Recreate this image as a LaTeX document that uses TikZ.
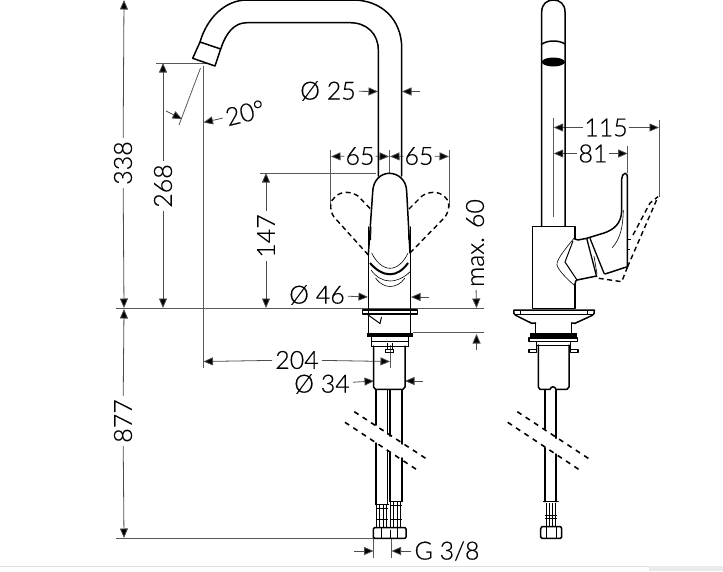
\documentclass[tikz,border=0pt]{standalone}
\usepackage{fontspec}
\setmainfont{Lato}[UprightFont=* Light,FakeBold=0.4]
\usetikzlibrary{arrows.meta}
\tikzset{
 x=1pt,y=-1pt,
 ol/.style={line width=1.5pt,black,line join=round,line cap=round},
 med/.style={line width=1pt,black},
 thin1/.style={line width=.6pt,black},
 ext/.style={line width=.8pt,black!65},
 dim/.style={line width=.8pt,black!70},
 dimar/.style={dim,-{Triangle[length=9.5pt,width=8pt,fill=black]}},
 txt/.style={inner sep=3pt,font=\fontsize{25}{25}\selectfont,text=black},
 dsh/.style={line width=1.4pt,dash pattern=on 5pt off 3.5pt,black},
 brk/.style={line width=1.6pt,dash pattern=on 5pt off 5pt,black},
}
\begin{document}
\begin{tikzpicture}
\useasboundingbox (0,0) rectangle (723,571);
\draw[line width=1pt,black!13] (0,566.5)--(723,566.5);
\fill[black!8] (649,566) rectangle (723,571);
% ---- extension lines
\draw[ext] (116,308.5)--(484,308.5);
\draw[ext] (116,538)--(376,538);
\draw[ext] (156,63)--(206,63);
\draw[ext] (203,66)--(203,368);
\draw[ext] (260,173)--(376,173);
\draw[ext] (413,332.5)--(484,332.5);
\draw[ext] (330.5,150)--(330.5,205);
\draw[ext] (449,150)--(449,207);
\draw[ext] (389.5,150)--(389.5,173);
\draw[ext] (390,345)--(390,368);
\draw[ext] (373.5,538)--(373.5,558);
\draw[ext] (391.5,538)--(391.5,558);
\draw[ext] (200.5,68)--(179,125);
\draw[ext] (553.3,118)--(553.3,217);
\draw[ext] (659,120)--(659,197);
\draw[ext] (627.7,146)--(627.7,173);
% ---- dimension texts
\node[txt,rotate=90] (t338) at (123,163) {338};
\node[txt,rotate=90] (t877) at (123,421) {877};
\node[txt,rotate=90] (t268) at (163,186) {268};
\node[txt,rotate=90] (t147) at (266,236) {147};
\node[txt,rotate=90] (tmax) at (475,243) {max. 60};
\node[txt,rotate=14] (t20) at (245,113) {20°};
\node[txt] (t25) at (328,91) {Ø 25};
\node[txt,inner xsep=1pt] (t65a) at (360,156) {65};
\node[txt,inner xsep=1pt] (t65b) at (419,156) {65};
\node[txt] (t46) at (317,295) {Ø 46};
\node[txt] (t204) at (297,360) {204};
\node[txt] (t34) at (322,384) {Ø 34};
\node[txt] (tg) at (447,551) {G 3/8};
\node[txt,inner xsep=1pt] (t115) at (606,127.5) {115};
\node[txt,inner xsep=1pt] (t81) at (593,153.5) {81};
% ---- dimension lines
\coordinate (a1) at (124,0); \coordinate (a2) at (124,308);
\coordinate (a3) at (124,309); \coordinate (a4) at (124,538);
\draw[dimar] (t338)--(a1); \draw[dimar] (t338)--(a2);
\draw[dimar] (t877)--(a3); \draw[dimar] (t877)--(a4);
\coordinate (b1) at (163,63); \coordinate (b2) at (163,308);
\draw[dimar] (t268)--(b1); \draw[dimar] (t268)--(b2);
\coordinate (c1) at (266,173); \coordinate (c2) at (266,308);
\draw[dimar] (t147)--(c1); \draw[dimar] (t147)--(c2);
\coordinate (d1) at (476.5,308);
\draw[dimar] (tmax)--(d1);
\coordinate (d2a) at (476.5,350); \coordinate (d2b) at (476.5,334);
\draw[dimar] (d2a)--(d2b);
\coordinate (e1) at (203.5,122.5);
\draw[dimar] (t20)--(e1);
\coordinate (e2a) at (166,111); \coordinate (e2b) at (182,119);
\draw[dimar] (e2a)--(e2b);
\coordinate (f1) at (378,91.5); \coordinate (f2a) at (420,91.5); \coordinate (f2b) at (402,91.5);
\draw[dimar] (t25)--(f1); \draw[dimar] (f2a)--(f2b);
\coordinate (g1) at (331,156.5); \coordinate (g2) at (389,156.5);
\coordinate (g3) at (390,156.5); \coordinate (g4) at (449,156.5);
\draw[dimar] (t65a)--(g1); \draw[dimar] (t65a)--(g2);
\draw[dimar] (t65b)--(g3); \draw[dimar] (t65b)--(g4);
\coordinate (h1) at (368,297); \coordinate (h2a) at (429,297); \coordinate (h2b) at (411,297);
\draw[dimar] (t46)--(h1); \draw[dimar] (h2a)--(h2b);
\coordinate (i1) at (203.5,361.5); \coordinate (i2) at (390,361.5);
\draw[dimar] (t204)--(i1); \draw[dimar] (t204)--(i2);
\coordinate (j1) at (374,381); \coordinate (j2a) at (423,381); \coordinate (j2b) at (405,381);
\draw[dimar] (t34)--(j1); \draw[dimar] (j2a)--(j2b);
\coordinate (k1a) at (354,551); \coordinate (k1b) at (373.5,551); \coordinate (k2) at (391.5,551);
\draw[dimar] (k1a)--(k1b); \draw[dimar] (tg)--(k2);
\coordinate (l1) at (553.7,127.5); \coordinate (l2) at (659,127.5);
\draw[dimar] (t115)--(l1); \draw[dimar] (t115)--(l2);
\coordinate (m1) at (553.7,153.5); \coordinate (m2) at (627.7,153.5);
\draw[dimar] (t81)--(m1); \draw[dimar] (t81)--(m2);
% ---- front view: spout
\draw[ol] (192.7,58.3)--(200,42)--(220.7,49)--(215,66)--cycle;
\draw[ol] (200,42) .. controls (207,18) and (225,0) .. (247,0) -- (353,0) .. controls (382,0) and (401.7,20) .. (401.7,48) -- (401.7,176);
\draw[ol] (220.7,49) .. controls (226,33) and (234,22.7) .. (247,22.7) -- (350,22.7) .. controls (367,22.7) and (378.3,34) .. (378.3,50) -- (378.3,176);
% handle
\draw[ol,fill=white] (368.3,255) -- (372.7,192) .. controls (373,180) and (381,173.3) .. (389.3,173.3) .. controls (398,173.3) and (406.7,180) .. (406.7,192) -- (410,253);
\draw[line width=2pt] (370,263) .. controls (376,270) and (383,274.3) .. (390,274.3) .. controls (397,274.3) and (403,270) .. (408,263);
\draw[thin1] (371.7,253) .. controls (376,262) and (383,268.3) .. (390,268.3) .. controls (397,268.3) and (404,262) .. (408,253);
\draw[thin1] (371,270) .. controls (376,277) and (383,281) .. (390,281) .. controls (397,281) and (405,277) .. (410,271.7);
\draw[thin1] (375.5,278) .. controls (380,284) and (385,286.5) .. (390,286.5) .. controls (395,286.5) and (401,284) .. (405,278);
\draw[ol] (368.3,227)--(368.3,308.5);
\draw[ol] (410.7,227)--(410.7,308.5);
\draw[med] (371,227)--(370.5,240);
\draw[med] (408.5,227)--(408.8,240);
% dashed handle positions
\draw[dsh] (368.3,255) -- (334,217) .. controls (329,210) and (330,200) .. (335,197) .. controls (342,190) and (352,192) .. (358,196) -- (370.5,209);
\draw[dsh] (410,253) -- (445,217) .. controls (450,210) and (450,200) .. (445,197) .. controls (438,190) and (428,192) .. (422,196) -- (409,209);
% base
\draw[ol,fill=white] (362.3,310) rectangle (417.7,314);
\draw[thin1] (368.5,310)--(368.5,314); \draw[thin1] (410.5,310)--(410.5,314);
\draw[ol] (368.3,314)--(368.3,333);
\draw[ol] (410.7,314)--(410.7,333);
\draw[med] (367.5,314.5)--(380,323.5)--(381.5,317);
\fill (366.7,333.3) rectangle (413.3,336.7);
\draw[med] (371,337)--(371,346)--(408.3,346)--(408.3,337);
\draw[med] (371,341.7)--(408.3,341.7);
\draw[med] (387,343)--(387,349); \draw[med] (392,343)--(392,349);
\draw[med] (385,349)--(393.5,349)--(393.5,352)--(385,352)--cycle;
\draw[ol] (373.5,346)--(373.5,387) -- (375.5,389.3) -- (403,389.3) -- (405,387)--(405,346);
% hoses
\draw[ol] (376,390)--(376,425);
\draw[ol] (387.5,390)--(387.5,434);
\draw[ol] (390,390)--(390,436);
\draw[ol] (402,390)--(402,444);
\draw[ol] (376,443)--(376,504);
\draw[ol] (387.5,451)--(387.5,504);
\draw[ol] (390,453)--(390,501);
\draw[ol] (402,458)--(402,501);
\draw[brk] (354.3,411.7)--(426.7,459);
\draw[brk] (345,422.3)--(418.3,470.7);
% fittings
\draw[med] (375,504)--(388.5,504); \draw[med] (389,501)--(402.5,501);
\foreach \cx/\ct in {381.5/505,395.5/502}{
 \draw[med] (\cx-6,\ct+3)--(\cx+6,\ct+3);
 \draw[med] (\cx-6,519)--(\cx+6,519);
 \foreach \d in {-5,-2,2,5}{\draw[line width=.9pt] (\cx+\d,\ct)--(\cx+\d,527);}
}
\draw[ol] (373.3,529) -- (374.5,527.7) -- (405,527.7) -- (406,529) -- (406,537) -- (405,538.3) -- (374.5,538.3) -- (373.3,537) -- cycle;
\draw[med] (381.5,528)--(381.5,538);
\draw[med] (397,528)--(397,538);
\draw[med] (390,530)--(390,538);
% ---- side view
\draw[ol] (541.7,226.7)--(541.7,12) .. controls (541.7,4) and (547,0) .. (553.3,0) .. controls (560,0) and (565,4) .. (565,12)--(565,226.7);
\draw[ol] (542,44) .. controls (548,40) and (559,40) .. (565,44);
\fill (553.3,62) ellipse [x radius=11.5,y radius=4.5];
\draw[ol] (575,239)--(575,226.7)--(532.3,226.7)--(532.3,308.3)--(575,308.3)--(575,284);
% handle
\draw[ol] (575,284) .. controls (575.5,281) and (576,280.5) .. (577,280) -- (596.7,276);
\draw[ol] (575,239) .. controls (576,240) and (577,240.3) .. (578,240) -- (586.7,238.3) -- (604,233) .. controls (613,230) and (621.7,224) .. (621.7,210) -- (621.7,179) .. controls (621.7,176) and (623,174) .. (625,173.3) .. controls (627,173.5) and (627.3,175) .. (627.3,177) -- (627.3,266.7) -- (605,274);
\draw[line width=1.3pt] (586.7,238.3)--(596.7,277);
\draw[line width=1.3pt] (590,238.3)--(604.3,274);
\draw[thin1] (594,256)--(597,274);
\draw[thin1] (623.3,210) .. controls (623,225) and (621,238) .. (612.3,247.7);
\draw[thin1] (575,237) .. controls (566,248) and (556,260) .. (557,265) .. controls (558,270) and (568,280) .. (574,285);
\draw[med] (573,241) -- (565,262) -- (577,280);
\draw[med] (627.5,239)--(631,239); \draw[med] (627.5,249.5)--(630,249.5);
% dashed
\draw[dsh] (627.5,267) -- (658,196.7);
\draw[dsh] (633,235) -- (650,203) -- (658,196.7);
\draw[dsh] (627.5,267) -- (621.7,281.7) -- (596.7,278);
% base
\draw[ol] (535.7,323) -- (535.7,333);
\draw[ol] (571.7,323) -- (571.7,333);
\draw[ol] (535.7,323) -- (531.7,323.3) -- (516,315.5) .. controls (514,314.5) and (513,313) .. (514,310) -- (594.3,310) .. controls (595,313) and (594,314.5) .. (592,315.5) -- (575,323.3) -- (571.7,323);
\draw[med] (515,314.3)--(593,314.3);
\draw[thin1] (520,310)--(520,314);\draw[thin1] (587,310)--(587,314);
\fill (530,333) rectangle (576.7,337.3);
\draw[ol] (529,338) rectangle (577.7,341.7);
\draw[med] (536.7,342)--(536.7,350); \draw[med] (570.7,342)--(570.7,350);
\draw[med] (536.7,345)--(570.7,345);
\draw[ol] (529,349.3) rectangle (536.7,352.7);
\draw[ol] (570.7,349.3) rectangle (578,352.7);
\draw[ol] (538.3,345)--(538.3,387) -- (540,389.3) -- (550,389.3) .. controls (551,386) and (555,386) .. (556,389.3) -- (567,389.3) -- (569,387) -- (569,345);
\draw[ol] (545,390)--(545,429);
\draw[ol] (556,390)--(556,438.3);
\draw[ol] (545,447.7)--(545,501.7);
\draw[ol] (556,454)--(556,501.7);
\draw[brk] (517.3,411.7)--(589.3,459);
\draw[brk] (507.7,422.3)--(580.7,470.7);
\draw[ol] (543.5,501.5)--(558,501.5);
\draw[med] (545,518)--(557,518);
\draw[med] (545,515)--(557,515);
\foreach \x in {546,549,552,555}{\draw[line width=.9pt] (\x,503)--(\x,526);}
\draw[ol] (540.7,528.5) -- (542,526.7) -- (560.5,526.7) -- (561.7,528.5) -- (561.7,537) -- (560.5,538.3) -- (542,538.3) -- (540.7,537) -- cycle;
\draw[med] (546,527)--(546,538); \draw[med] (556,527)--(556,538);
\end{tikzpicture}
\end{document}
